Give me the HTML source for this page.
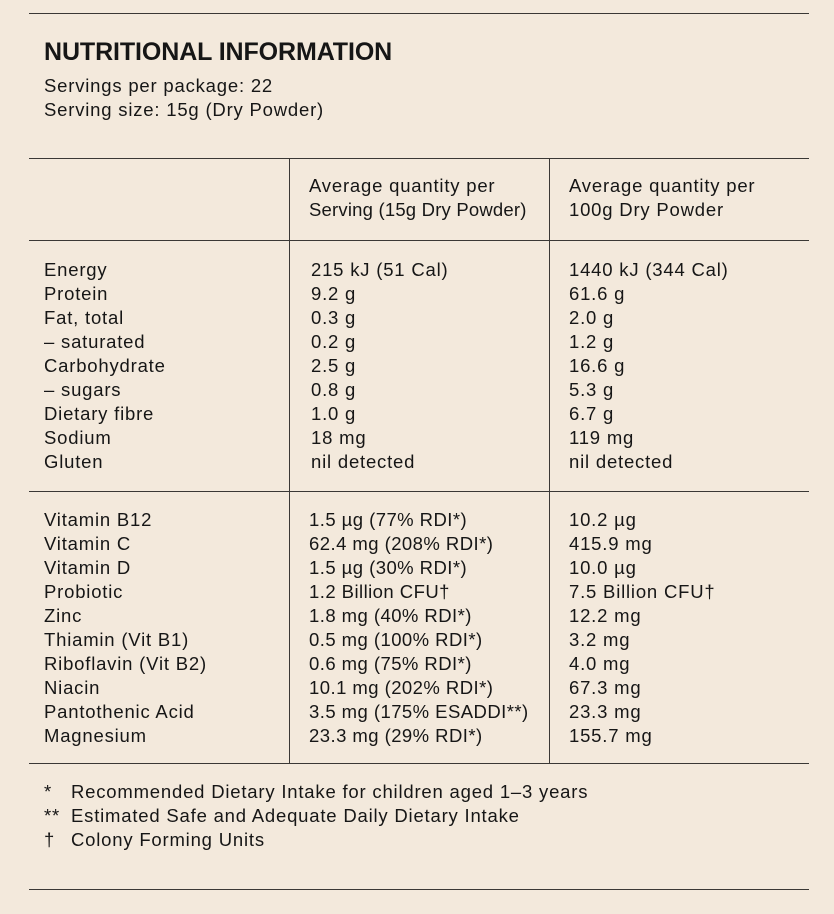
<!DOCTYPE html>
<html><head><meta charset="utf-8"><style>
html,body{margin:0;padding:0}
body{width:834px;height:914px;background:#f3e9dc;position:relative;overflow:hidden;font-family:"Liberation Sans",sans-serif;color:#161616}
.h{position:absolute;left:29px;width:780px;height:1px;background:#3a3835}
.v{position:absolute;width:1px;background:#3a3835}
.t{position:absolute;font-size:18.5px;letter-spacing:0.8px;line-height:24px;white-space:nowrap}
.c{position:absolute;font-size:18.5px;letter-spacing:0.8px;line-height:23.95px;white-space:nowrap}
</style></head><body>
<div class="h" style="top:13px"></div>
<div class="t" style="left:44px;top:38px;font-size:25px;line-height:28px;font-weight:bold;letter-spacing:-0.1px">NUTRITIONAL INFORMATION</div>
<div class="t" style="left:44px;top:74px">Servings per package: 22<br>Serving size: 15g (Dry Powder)</div>
<div class="h" style="top:158px"></div>
<div class="h" style="top:240px"></div>
<div class="h" style="top:491px"></div>
<div class="h" style="top:763px"></div>
<div class="h" style="top:889px"></div>
<div class="v" style="left:289px;top:158px;height:605px"></div>
<div class="v" style="left:549px;top:158px;height:605px"></div>
<div class="t" style="left:309px;top:174px">Average quantity per<br><span style="letter-spacing:0.2px">Serving (15g Dry Powder)</span></div>
<div class="t" style="left:569px;top:174px">Average quantity per<br>100g Dry Powder</div>
<div class="c" style="left:44px;top:258px">Energy<br>Protein<br>Fat, total<br>– saturated<br>Carbohydrate<br>– sugars<br>Dietary fibre<br>Sodium<br>Gluten</div>
<div class="c" style="left:311px;top:258px">215 kJ (51 Cal)<br>9.2 g<br>0.3 g<br>0.2 g<br>2.5 g<br>0.8 g<br>1.0 g<br>18 mg<br>nil detected</div>
<div class="c" style="left:569px;top:258px">1440 kJ (344 Cal)<br>61.6 g<br>2.0 g<br>1.2 g<br>16.6 g<br>5.3 g<br>6.7 g<br>119 mg<br>nil detected</div>
<div class="c" style="left:44px;top:508px">Vitamin B12<br>Vitamin C<br>Vitamin D<br>Probiotic<br>Zinc<br>Thiamin (Vit B1)<br>Riboflavin (Vit B2)<br>Niacin<br>Pantothenic Acid<br>Magnesium</div>
<div class="c" style="left:309px;top:508px;letter-spacing:0.45px">1.5 µg (77% RDI*)<br>62.4 mg (208% RDI*)<br>1.5 µg (30% RDI*)<br>1.2 Billion CFU†<br>1.8 mg (40% RDI*)<br>0.5 mg (100% RDI*)<br>0.6 mg (75% RDI*)<br>10.1 mg (202% RDI*)<br>3.5 mg (175% ESADDI**)<br>23.3 mg (29% RDI*)</div>
<div class="c" style="left:569px;top:508px">10.2 µg<br>415.9 mg<br>10.0 µg<br>7.5 Billion CFU†<br>12.2 mg<br>3.2 mg<br>4.0 mg<br>67.3 mg<br>23.3 mg<br>155.7 mg</div>
<div class="c" style="left:44px;top:780px">*<br>**<br>†</div>
<div class="c" style="left:71px;top:780px">Recommended Dietary Intake for children aged 1–3 years<br>Estimated Safe and Adequate Daily Dietary Intake<br>Colony Forming Units</div>
</body></html>
